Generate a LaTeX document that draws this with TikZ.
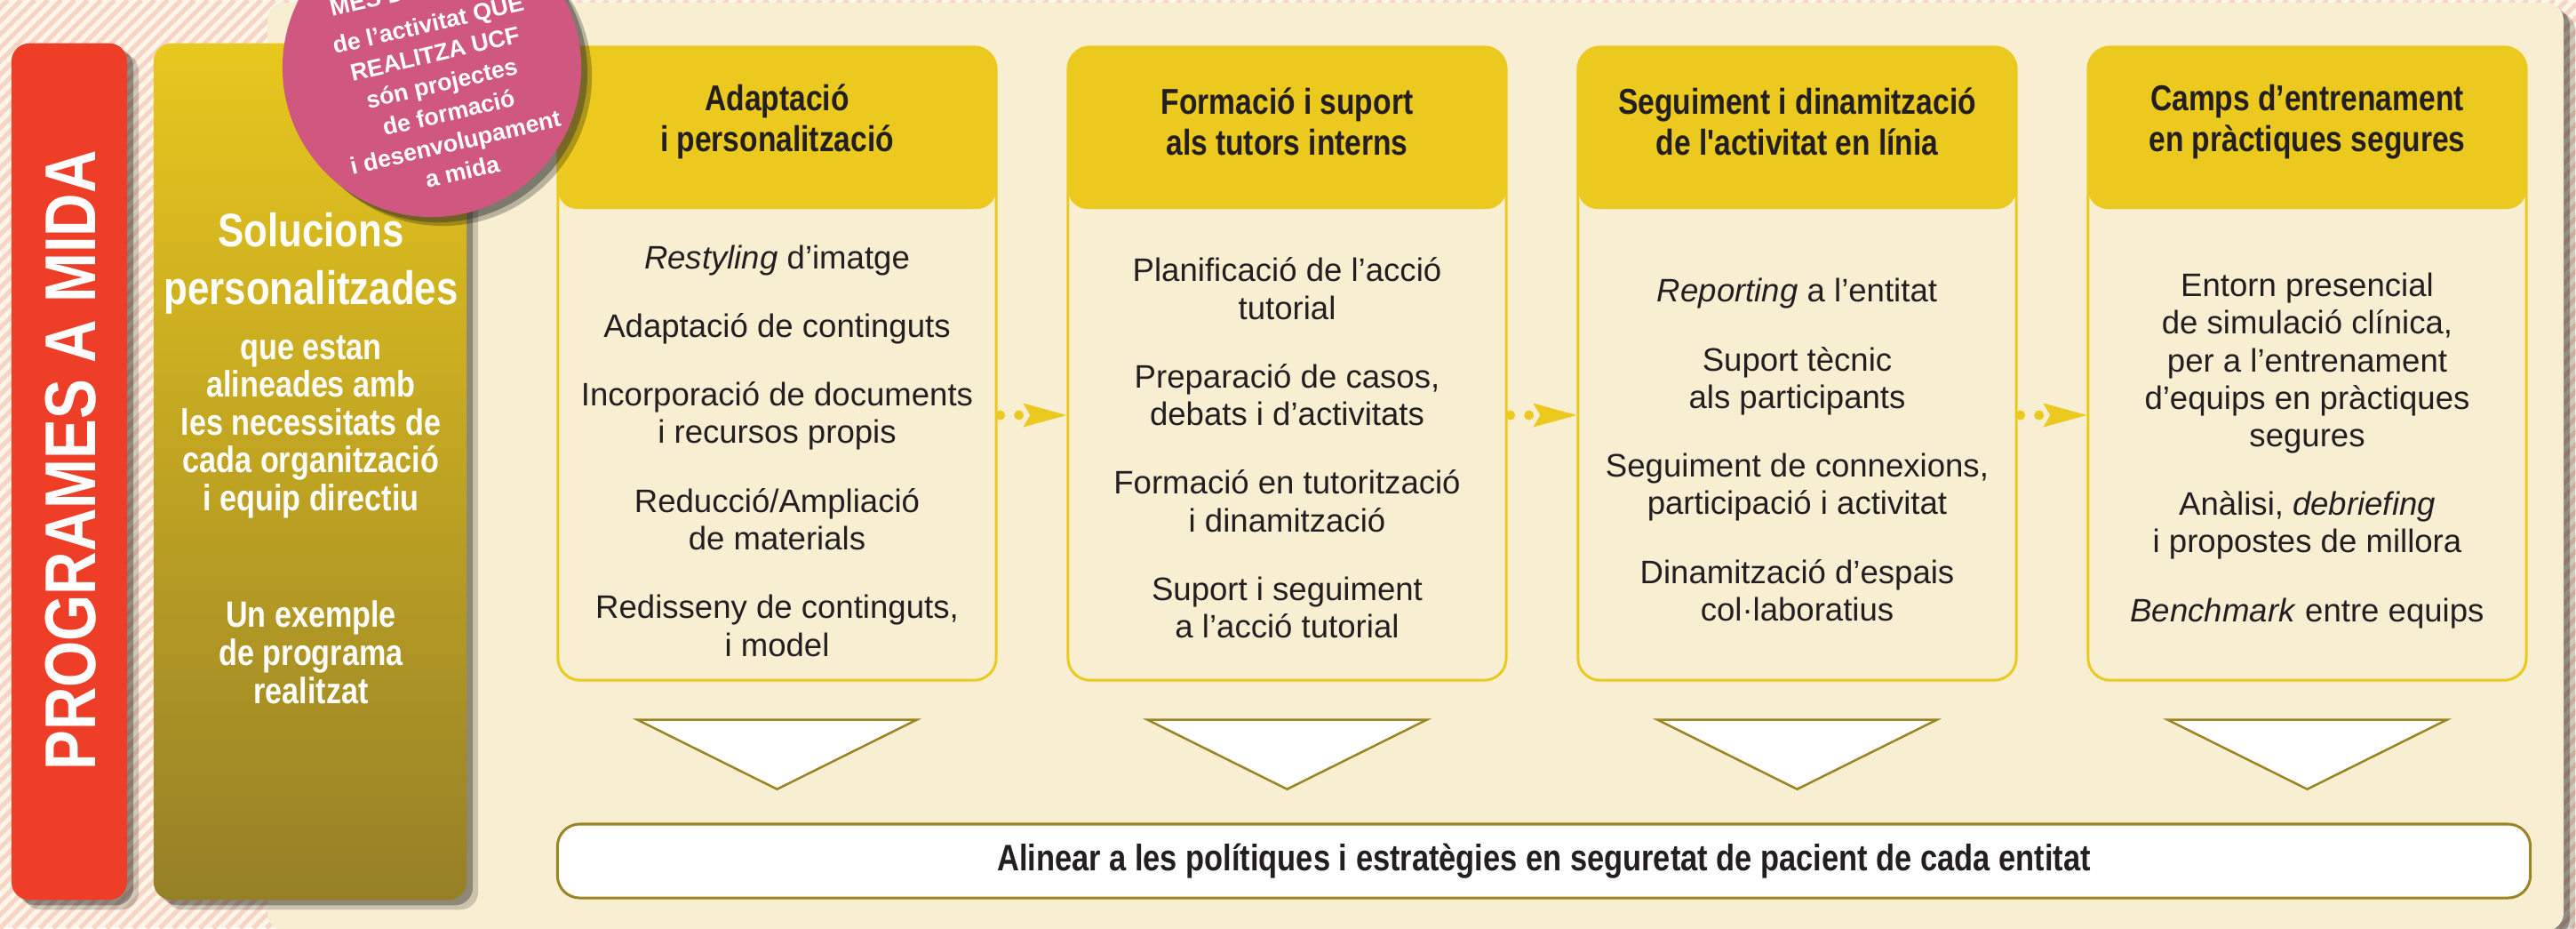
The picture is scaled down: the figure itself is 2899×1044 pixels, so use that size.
\documentclass[tikz,border=0pt]{standalone}
\usepackage{fontspec}
\setmainfont{Liberation Sans}
\newfontfamily\condfont{Liberation Sans}[FakeStretch=0.83]
\usetikzlibrary{shadows,arrows.meta,calc}
\definecolor{cream}{HTML}{F8EFD3}
\definecolor{ay}{HTML}{ECC91F}
\definecolor{redbar}{HTML}{EE3E28}
\definecolor{pinkc}{HTML}{D05780}
\definecolor{olivetop}{HTML}{E8C71E}
\definecolor{olivebot}{HTML}{968027}
\definecolor{oliveline}{HTML}{9A8424}
\definecolor{txt}{HTML}{231F20}
\definecolor{stripebg}{HTML}{FBF6E7}
\definecolor{stripe}{HTML}{F7D4C4}
\begin{document}
\begin{tikzpicture}[x=0.01cm,y=-0.01cm,
  softshadow/.style={drop shadow={shadow xshift=0.13cm,shadow yshift=-0.11cm,opacity=0.18,fill=black},
                     drop shadow={shadow xshift=0.07cm,shadow yshift=-0.06cm,opacity=0.3,fill=black}},
  colbox/.style={draw=ay, line width=0.03cm, fill=cream, rounded corners=0.25cm,
                 minimum width=4.93cm, minimum height=7.12cm, inner sep=0pt},
  headbox/.style={fill=ay, rounded corners=0.22cm, minimum width=4.93cm, minimum height=1.82cm, inner sep=0pt},
  headtext/.style={align=center, text=txt, font=\condfont\bfseries\fontsize{11.5}{13.1}\selectfont},
  bodytext/.style={align=center, text=txt, font=\fontsize{10.4}{12}\selectfont},
  conn/.style={draw=ay, line width=0.11cm, line cap=round, dash pattern=on 0pt off 0.21cm,
               -{Stealth[length=0.49cm, width=0.27cm, inset=0.08cm, line width=0pt]}},
  tri/.style={draw=oliveline, fill=white, line width=0.025cm, line join=miter},
  soltext/.style={align=center, text=white, font=\condfont\bfseries},
  badgefont/.style={text=white, font=\bfseries\fontsize{7.6}{9.7}\selectfont},
]
\useasboundingbox (0,0) rectangle (2899,1044);
% striped background
\fill[stripebg] (0,0) rectangle (2899,1044);
\begin{scope}
\clip (0,0) rectangle (2899,1044);
\foreach \i in {-1050,-1035,...,2900}
  \draw[stripe, line width=0.05cm] (\i,1044) -- ++(1044,-1044);
\end{scope}
% cream panel
\path[fill=cream, rounded corners=0.2cm, softshadow] (301,3) rectangle (2885,1047);

% red bar
\node (red) [fill=redbar, rounded corners=0.2cm, minimum width=1.30cm, minimum height=9.63cm, inner sep=0pt, softshadow] at (78,530.5) {};
\node (redtext) [rotate=90, text=white, font=\condfont\bfseries\fontsize{23}{27}\selectfont] at (80,518) {PROGRAMES A MIDA};

% olive bar
\node (sol) [top color=olivetop, bottom color=olivebot, rounded corners=0.2cm, minimum width=3.52cm, minimum height=9.63cm, inner sep=0pt, softshadow] at (349,530.5) {};
\node (sol1) [soltext, font=\condfont\bfseries\fontsize{15}{18.5}\selectfont] at (350,296) {Solucions\\personalitzades};
\node (sol2) [soltext, font=\condfont\bfseries\fontsize{11.7}{12.1}\selectfont] at (350,480) {que estan\\alineades amb\\les necessitats de\\cada organització\\i equip directiu};
\node (sol3) [soltext, font=\condfont\bfseries\fontsize{11.7}{12.3}\selectfont] at (350,734) {Un exemple\\de programa\\realitzat};

% columns
\foreach \k/\cx in {1/874.5,2/1448.5,3/2022.5,4/2596.5}{
  \node (c\k) [colbox] at (\cx,409) {};
  \node (h\k) [headbox] at (\cx,144) {};
}
\node (ht1) [headtext] at (h1.center) [yshift=0.07cm] {Adaptació\\i personalització};
\node (ht2) [headtext] at (h2.center) [yshift=0.07cm] {Formació i suport\\als tutors interns};
\node (ht3) [headtext] at (h3.center) [yshift=0.07cm] {Seguiment i dinamització\\de l'activitat en línia};
\node (ht4) [headtext] at (h4.center) [yshift=0.07cm] {Camps d’entrenament\\en pràctiques segures};

\node (b1) [bodytext] at (874.5,507) {\textit{Restyling} d’imatge\\[10pt]Adaptació de continguts\\[10pt]Incorporació de documents\\i recursos propis\\[10pt]Reducció/Ampliació\\de materials\\[10pt]Redisseny de continguts,\\i model};
\node (b2) [bodytext] at (1448.5,504) {Planificació de l’acció\\tutorial\\[10pt]Preparació de casos,\\debats i d’activitats\\[10pt]Formació en tutorització\\i dinamització\\[10pt]Suport i seguiment\\a l’acció tutorial};
\node (b3) [bodytext] at (2022.5,506) {\textit{Reporting} a l’entitat\\[10pt]Suport tècnic\\als participants\\[10pt]Seguiment de connexions,\\participació i activitat\\[10pt]Dinamització d’espais\\col·laboratius};
\node (b4) [bodytext] at (2596.5,507) {Entorn presencial\\de simulació clínica,\\per a l’entrenament\\d’equips en pràctiques\\segures\\[10pt]Anàlisi, \textit{debriefing}\\i propostes de millora\\[10pt]\textit{Benchmark} entre equips};

% connectors
\draw[conn] ($(c1.east)+(3,58)$) -- ($(c2.west)+(0,58)$);
\draw[conn] ($(c2.east)+(3,58)$) -- ($(c3.west)+(0,58)$);
\draw[conn] ($(c3.east)+(3,58)$) -- ($(c4.west)+(0,58)$);

% triangles
\foreach \k in {1,2,3,4}{
  \draw[tri] ($(c\k.south)+(-157,43)$) -- ($(c\k.south)+(157,43)$) -- ($(c\k.south)+(0,121)$) -- cycle;
}

% bottom box
\node (goal) [fill=white, draw=oliveline, line width=0.03cm, rounded corners=0.25cm, minimum width=22.19cm, minimum height=0.83cm, inner sep=0pt, text=txt, font=\condfont\bfseries\fontsize{11.8}{14}\selectfont] at (1737.5,968.5) {Alinear a les polítiques i estratègies en seguretat de pacient de cada entitat};

% badge
\node (badge) [circle, fill=pinkc, minimum size=3.36cm, inner sep=0pt,
  drop shadow={shadow xshift=0.12cm,shadow yshift=-0.1cm,opacity=0.25,fill=black},
  drop shadow={shadow xshift=0.07cm,shadow yshift=-0.06cm,opacity=0.45,fill=black!80}] at (486,76) {};
\node (badgetext) [rotate=13, align=center, badgefont] at (501,110) {de l’activitat QUE\\REALITZA UCF\\són projectes\\de formació\\i desenvolupament\\a mida};
\node (badgetop) [rotate=13, anchor=base west, inner sep=0pt, badgefont] at (373,19) {MÉS D};
\end{tikzpicture}
\end{document}
